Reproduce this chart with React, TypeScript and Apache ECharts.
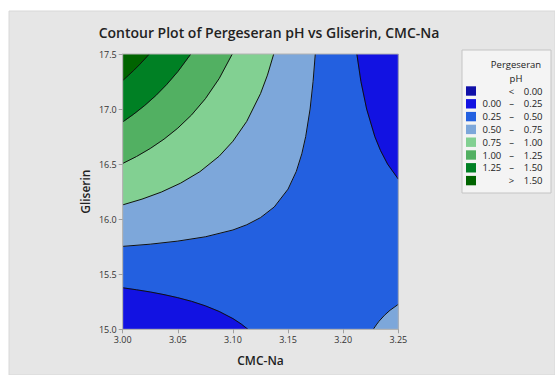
import React, { useEffect, useRef } from 'react';
import * as echarts from 'echarts';

const titleText = 'Contour Plot of Pergeseran pH vs Gliserin, CMC-Na';
const xName = 'CMC-Na';
const yName = 'Gliserin';
const xMin = 3.0, xMax = 3.25, xStep = 0.05;
const yMin = 15.0, yMax = 17.5, yStep = 0.5;

const legendTitle = ['Pergeseran', 'pH'];
const levels = [0.0, 0.25, 0.5, 0.75, 1.0, 1.25, 1.5];
const levelColors = ['#1010a8', '#1212e2', '#2360e0', '#7da7da', '#82d092', '#52b062', '#008024', '#006400'];

// contour lines, [CMC-Na, Gliserin]
const c025Low: number[][] = [[3.0, 15.377], [3.0125, 15.359], [3.025, 15.339], [3.0375, 15.315], [3.05, 15.287], [3.0625, 15.254], [3.075, 15.213], [3.0875, 15.162], [3.1, 15.097], [3.1075, 15.048], [3.1136, 15.0]];
const c025High: number[][] = [[3.2124, 17.5], [3.2161, 17.25], [3.2213, 17.0], [3.2287, 16.75], [3.2338, 16.625], [3.2403, 16.5], [3.25, 16.364]];
const c050Left: number[][] = [[3.0, 15.753], [3.025, 15.773], [3.05, 15.801], [3.075, 15.84], [3.1, 15.902], [3.1125, 15.949], [3.125, 16.014], [3.1375, 16.111], [3.15, 16.273], [3.1575, 16.434], [3.1625, 16.594], [3.166, 16.75], [3.17, 17.0], [3.1727, 17.25], [3.1747, 17.5]];
const c050Right: number[][] = [[3.2273, 15.0], [3.2288, 15.022], [3.23, 15.04], [3.2325, 15.073], [3.2375, 15.128], [3.2425, 15.173], [3.25, 15.227]];
const c075: number[][] = [[3.0, 16.13], [3.0175, 16.182], [3.035, 16.246], [3.0525, 16.327], [3.07, 16.431], [3.0875, 16.572], [3.1, 16.708], [3.1125, 16.888], [3.125, 17.14], [3.1313, 17.308], [3.137, 17.5]];
const c100: number[][] = [[3.0, 16.506], [3.0125, 16.569], [3.025, 16.642], [3.0375, 16.727], [3.05, 16.827], [3.0625, 16.947], [3.075, 17.094], [3.0875, 17.277], [3.0994, 17.5]];
const c125: number[][] = [[3.0, 16.883], [3.01, 16.954], [3.02, 17.033], [3.03, 17.122], [3.04, 17.224], [3.05, 17.34], [3.0618, 17.5]];
const c150: number[][] = [[3.0, 17.259], [3.005, 17.304], [3.01, 17.351], [3.015, 17.401], [3.02, 17.454], [3.0241, 17.5]];

const contourLines = [c025Low, c025High, c050Left, c050Right, c075, c100, c125, c150];

export default function App() {
  const ref = useRef<HTMLDivElement>(null);
  useEffect(() => {
    if (!ref.current) return;
    const chart = echarts.init(ref.current, null, { renderer: 'svg' });
    const font = 'Open Sans';
    // regions painted in order: [boundary points, colour index]
    const regions: { pts: number[][]; c: number }[] = [
      { pts: [[xMin, yMin], [xMax, yMin], [xMax, yMax], [xMin, yMax]], c: 2 },
      { pts: [...c025Low, [xMin, yMin]], c: 1 },
      { pts: [...c025High, [xMax, yMax]], c: 1 },
      { pts: [...c050Right, [xMax, yMin]], c: 3 },
      { pts: [...c050Left, [xMin, yMax]], c: 3 },
      { pts: [...c075, [xMin, yMax]], c: 4 },
      { pts: [...c100, [xMin, yMax]], c: 5 },
      { pts: [...c125, [xMin, yMax]], c: 6 },
      { pts: [...c150, [xMin, yMax]], c: 7 },
    ];

    const rowY0 = 91, rowH = 12.8;
    const lfs = 9.5;
    const tfs = 9.5;
    const legendEls: any[] = [
      { type: 'rect', shape: { x: 462, y: 50, width: 89, height: 143 }, style: { fill: '#f4f4f4', stroke: '#c4c4c4', lineWidth: 1 }, z: 5 },
      { type: 'text', x: 516, y: 64.5, style: { text: legendTitle[0], fontSize: tfs, fontFamily: font, fill: '#222', align: 'center', verticalAlign: 'middle' }, z: 6 },
      { type: 'text', x: 516, y: 78, style: { text: legendTitle[1], fontSize: tfs, fontFamily: font, fill: '#222', align: 'center', verticalAlign: 'middle' }, z: 6 },
    ];
    for (let i = 0; i < levelColors.length; i++) {
      const y = rowY0 + i * rowH;
      let a = '', sep = '', b = '';
      if (i === 0) { sep = '<'; b = levels[0].toFixed(2); }
      else if (i === levelColors.length - 1) { sep = '>'; b = levels[levels.length - 1].toFixed(2); }
      else { a = levels[i - 1].toFixed(2); sep = '–'; b = levels[i].toFixed(2); }
      legendEls.push({ type: 'rect', shape: { x: 466, y: y - 4.7, width: 10, height: 9.4 }, style: { fill: levelColors[i] }, z: 6 });
      if (a) legendEls.push({ type: 'text', x: 482.5, y, style: { text: a, fontSize: lfs, fontFamily: font, fill: '#222', align: 'left', verticalAlign: 'middle' }, z: 6 });
      legendEls.push({ type: 'text', x: 511.5, y, style: { text: sep, fontSize: lfs, fontFamily: font, fill: '#222', align: 'center', verticalAlign: 'middle' }, z: 6 });
      legendEls.push({ type: 'text', x: 542.5, y, style: { text: b, fontSize: lfs, fontFamily: font, fill: '#222', align: 'right', verticalAlign: 'middle' }, z: 6 });
    }

    const option: any = {
      animation: false,
      backgroundColor: '#ffffff',
      textStyle: { fontFamily: font },
      grid: { left: 122.7, top: 54, right: 156.7, bottom: 45.7, show: true, z: 10, backgroundColor: 'transparent', borderColor: '#b4b4b4', borderWidth: 1 },
      xAxis: {
        type: 'value', min: xMin, max: xMax, interval: xStep,
        name: xName, nameLocation: 'middle', nameGap: 25,
        nameTextStyle: { fontSize: 12, fontWeight: 600, color: '#222', fontFamily: font },
        axisLine: { show: true, lineStyle: { color: '#b4b4b4' } },
        axisTick: { show: true, length: 4, lineStyle: { color: '#a0a0a0' } },
        axisLabel: { fontSize: 9, color: '#333', margin: 6, formatter: (v: number) => v.toFixed(2) },
        splitLine: { show: false },
        z: 10,
      },
      yAxis: {
        type: 'value', min: yMin, max: yMax, interval: yStep,
        name: yName, nameLocation: 'middle', nameGap: 31, nameRotate: 90,
        nameTextStyle: { fontSize: 12, fontWeight: 600, color: '#222', fontFamily: font },
        axisLine: { show: true, lineStyle: { color: '#b4b4b4' } },
        axisTick: { show: true, length: 4, lineStyle: { color: '#a0a0a0' } },
        axisLabel: { fontSize: 9, color: '#333', margin: 6, formatter: (v: number) => v.toFixed(1) },
        splitLine: { show: false },
        z: 10,
      },
      graphic: [
        { type: 'rect', shape: { x: 9, y: 11, width: 546, height: 364 }, style: { fill: '#e6e6e6', stroke: '#d8d8d8', lineWidth: 1 }, z: -10, silent: true },
        { type: 'text', x: 269, y: 32, style: { text: titleText, fontSize: 14, fontWeight: 600, fontFamily: font, fill: '#222', align: 'center', verticalAlign: 'middle' }, z: 6 },
        ...legendEls,
      ],
      series: [
        {
          type: 'custom',
          clip: true,
          silent: true,
          data: regions.map((r) => r.pts[0]),
          renderItem: (params: any, api: any) => {
            const r = regions[params.dataIndex];
            const pts = r.pts.map((p) => api.coord(p));
            return { type: 'polygon', shape: { points: pts }, style: { fill: levelColors[r.c], stroke: levelColors[r.c], lineWidth: 0.6 } };
          },
          z: 2,
        },
        ...contourLines.map((line) => ({
          type: 'line',
          data: line,
          showSymbol: false,
          symbol: 'none',
          silent: true,
          clip: true,
          lineStyle: { color: '#111', width: 1 },
          z: 3,
        })),
      ],
    };
    chart.setOption(option);
    return () => chart.dispose();
  }, []);
  return <div ref={ref} style={{ position: 'fixed', left: 0, top: 0, width: 555, height: 375 }} />;
}
